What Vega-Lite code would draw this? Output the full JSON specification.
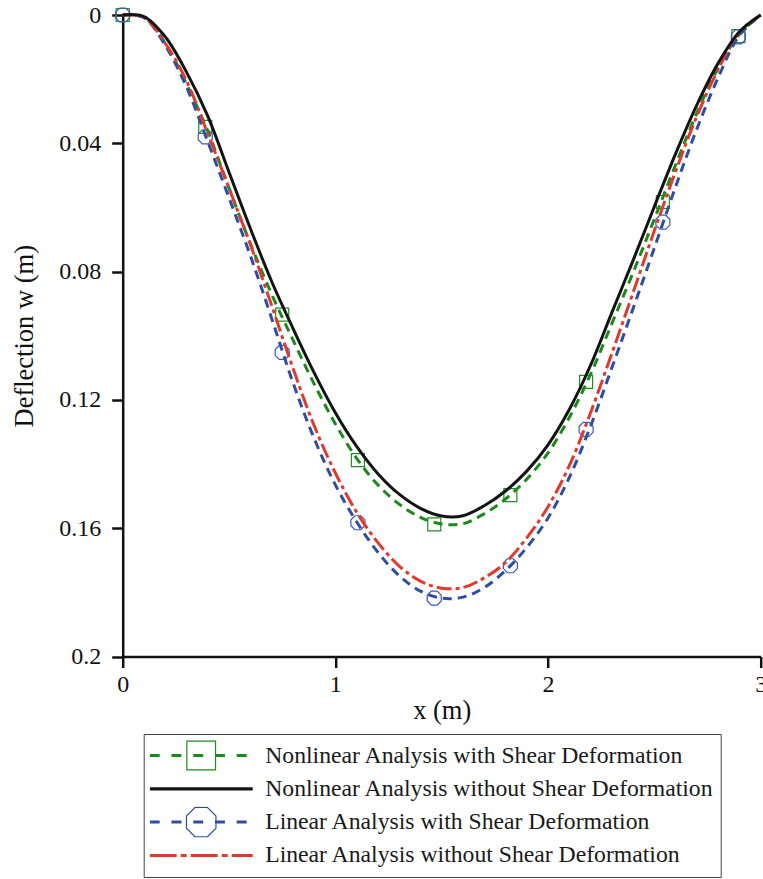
{
  "$schema": "https://vega.github.io/schema/vega-lite/v6.json",
  "autosize": {"type": "none"},
  "padding": {"left": 122.7, "top": 15, "right": 2.3, "bottom": 222.5},
  "width": 638,
  "height": 641.5,
  "background": "white",
  "datasets": {
    "curves": [
      {"x": 0.0, "Nonlinear Analysis with Shear Deformation": 0, "Nonlinear Analysis without Shear Deformation": 0, "Linear Analysis with Shear Deformation": 0, "Linear Analysis without Shear Deformation": 0},
      {"x": 0.1, "Nonlinear Analysis with Shear Deformation": 0.0008, "Nonlinear Analysis without Shear Deformation": 0.0005, "Linear Analysis with Shear Deformation": 0.0008, "Linear Analysis without Shear Deformation": 0.0008},
      {"x": 0.2, "Nonlinear Analysis with Shear Deformation": 0.0088, "Nonlinear Analysis without Shear Deformation": 0.0068, "Linear Analysis with Shear Deformation": 0.0095, "Linear Analysis without Shear Deformation": 0.0088},
      {"x": 0.3, "Nonlinear Analysis with Shear Deformation": 0.0215, "Nonlinear Analysis without Shear Deformation": 0.0178, "Linear Analysis with Shear Deformation": 0.0225, "Linear Analysis without Shear Deformation": 0.0205},
      {"x": 0.4, "Nonlinear Analysis with Shear Deformation": 0.0362, "Nonlinear Analysis without Shear Deformation": 0.0315, "Linear Analysis with Shear Deformation": 0.0395, "Linear Analysis without Shear Deformation": 0.037},
      {"x": 0.5, "Nonlinear Analysis with Shear Deformation": 0.054, "Nonlinear Analysis without Shear Deformation": 0.049, "Linear Analysis with Shear Deformation": 0.057, "Linear Analysis without Shear Deformation": 0.054},
      {"x": 0.6, "Nonlinear Analysis with Shear Deformation": 0.0712, "Nonlinear Analysis without Shear Deformation": 0.0665, "Linear Analysis with Shear Deformation": 0.075, "Linear Analysis without Shear Deformation": 0.0715},
      {"x": 0.7, "Nonlinear Analysis with Shear Deformation": 0.087, "Nonlinear Analysis without Shear Deformation": 0.083, "Linear Analysis with Shear Deformation": 0.0945, "Linear Analysis without Shear Deformation": 0.0905},
      {"x": 0.8, "Nonlinear Analysis with Shear Deformation": 0.1012, "Nonlinear Analysis without Shear Deformation": 0.0976, "Linear Analysis with Shear Deformation": 0.1145, "Linear Analysis without Shear Deformation": 0.11},
      {"x": 0.9, "Nonlinear Analysis with Shear Deformation": 0.115, "Nonlinear Analysis without Shear Deformation": 0.1115, "Linear Analysis with Shear Deformation": 0.132, "Linear Analysis without Shear Deformation": 0.128},
      {"x": 1.0, "Nonlinear Analysis with Shear Deformation": 0.1275, "Nonlinear Analysis without Shear Deformation": 0.124, "Linear Analysis with Shear Deformation": 0.1465, "Linear Analysis without Shear Deformation": 0.1428},
      {"x": 1.1, "Nonlinear Analysis with Shear Deformation": 0.1382, "Nonlinear Analysis without Shear Deformation": 0.1345, "Linear Analysis with Shear Deformation": 0.158, "Linear Analysis without Shear Deformation": 0.155},
      {"x": 1.2, "Nonlinear Analysis with Shear Deformation": 0.1465, "Nonlinear Analysis without Shear Deformation": 0.143, "Linear Analysis with Shear Deformation": 0.1675, "Linear Analysis without Shear Deformation": 0.1645},
      {"x": 1.3, "Nonlinear Analysis with Shear Deformation": 0.1525, "Nonlinear Analysis without Shear Deformation": 0.1494, "Linear Analysis with Shear Deformation": 0.1748, "Linear Analysis without Shear Deformation": 0.1718},
      {"x": 1.4, "Nonlinear Analysis with Shear Deformation": 0.1566, "Nonlinear Analysis without Shear Deformation": 0.1538, "Linear Analysis with Shear Deformation": 0.1796, "Linear Analysis without Shear Deformation": 0.1765},
      {"x": 1.5, "Nonlinear Analysis with Shear Deformation": 0.1587, "Nonlinear Analysis without Shear Deformation": 0.1562, "Linear Analysis with Shear Deformation": 0.1818, "Linear Analysis without Shear Deformation": 0.1787},
      {"x": 1.6, "Nonlinear Analysis with Shear Deformation": 0.1586, "Nonlinear Analysis without Shear Deformation": 0.1561, "Linear Analysis with Shear Deformation": 0.1815, "Linear Analysis without Shear Deformation": 0.1785},
      {"x": 1.7, "Nonlinear Analysis with Shear Deformation": 0.1555, "Nonlinear Analysis without Shear Deformation": 0.153, "Linear Analysis with Shear Deformation": 0.1785, "Linear Analysis without Shear Deformation": 0.1755},
      {"x": 1.8, "Nonlinear Analysis with Shear Deformation": 0.1509, "Nonlinear Analysis without Shear Deformation": 0.1484, "Linear Analysis with Shear Deformation": 0.1732, "Linear Analysis without Shear Deformation": 0.1707},
      {"x": 1.9, "Nonlinear Analysis with Shear Deformation": 0.1447, "Nonlinear Analysis without Shear Deformation": 0.1422, "Linear Analysis with Shear Deformation": 0.166, "Linear Analysis without Shear Deformation": 0.163},
      {"x": 2.0, "Nonlinear Analysis with Shear Deformation": 0.1365, "Nonlinear Analysis without Shear Deformation": 0.134, "Linear Analysis with Shear Deformation": 0.1568, "Linear Analysis without Shear Deformation": 0.1533},
      {"x": 2.1, "Nonlinear Analysis with Shear Deformation": 0.1255, "Nonlinear Analysis without Shear Deformation": 0.123, "Linear Analysis with Shear Deformation": 0.1442, "Linear Analysis without Shear Deformation": 0.1405},
      {"x": 2.2, "Nonlinear Analysis with Shear Deformation": 0.112, "Nonlinear Analysis without Shear Deformation": 0.1092, "Linear Analysis with Shear Deformation": 0.1282, "Linear Analysis without Shear Deformation": 0.124},
      {"x": 2.3, "Nonlinear Analysis with Shear Deformation": 0.0962, "Nonlinear Analysis without Shear Deformation": 0.0928, "Linear Analysis with Shear Deformation": 0.11, "Linear Analysis without Shear Deformation": 0.1055},
      {"x": 2.4, "Nonlinear Analysis with Shear Deformation": 0.0803, "Nonlinear Analysis without Shear Deformation": 0.0765, "Linear Analysis with Shear Deformation": 0.0915, "Linear Analysis without Shear Deformation": 0.0865},
      {"x": 2.5, "Nonlinear Analysis with Shear Deformation": 0.0636, "Nonlinear Analysis without Shear Deformation": 0.0597, "Linear Analysis with Shear Deformation": 0.0726, "Linear Analysis without Shear Deformation": 0.0672},
      {"x": 2.6, "Nonlinear Analysis with Shear Deformation": 0.0467, "Nonlinear Analysis without Shear Deformation": 0.0432, "Linear Analysis with Shear Deformation": 0.0535, "Linear Analysis without Shear Deformation": 0.0487},
      {"x": 2.7, "Nonlinear Analysis with Shear Deformation": 0.0305, "Nonlinear Analysis without Shear Deformation": 0.028, "Linear Analysis with Shear Deformation": 0.0355, "Linear Analysis without Shear Deformation": 0.0315},
      {"x": 2.8, "Nonlinear Analysis with Shear Deformation": 0.0165, "Nonlinear Analysis without Shear Deformation": 0.015, "Linear Analysis with Shear Deformation": 0.0195, "Linear Analysis without Shear Deformation": 0.017},
      {"x": 2.9, "Nonlinear Analysis with Shear Deformation": 0.006, "Nonlinear Analysis without Shear Deformation": 0.0052, "Linear Analysis with Shear Deformation": 0.0063, "Linear Analysis without Shear Deformation": 0.0053},
      {"x": 3.0, "Nonlinear Analysis with Shear Deformation": 0, "Nonlinear Analysis without Shear Deformation": 0, "Linear Analysis with Shear Deformation": 0, "Linear Analysis without Shear Deformation": 0}
    ],
    "markers": [
      {"x": 0, "square": 0, "octagon": 0},
      {"x": 0.388, "square": 0.0349, "octagon": 0.038},
      {"x": 0.75, "square": 0.0934, "octagon": 0.1052},
      {"x": 1.106, "square": 0.1388, "octagon": 0.1583},
      {"x": 1.465, "square": 0.1588, "octagon": 0.1818},
      {"x": 1.823, "square": 0.1497, "octagon": 0.1717},
      {"x": 2.179, "square": 0.1144, "octagon": 0.1292},
      {"x": 2.54, "square": 0.0583, "octagon": 0.0646},
      {"x": 2.895, "square": 0.0066, "octagon": 0.0068}
    ]
  },
  "encoding": {
    "x": {
      "field": "x", "type": "quantitative",
      "scale": {"domain": [0, 3], "nice": false, "zero": false},
      "axis": {"values": [0, 1, 2, 3], "format": "d", "title": "x (m)", "labelPadding": 5, "titlePadding": 0.5, "labelFlush": false, "labelOverlap": false}
    }
  },
  "layer": [
    {
      "data": {"name": "markers"},
      "mark": {"type": "point", "shape": "square", "size": 169, "filled": false, "stroke": "#1f8f1f", "strokeWidth": 1.2, "opacity": 1},
      "encoding": {
        "y": {"field": "square", "type": "quantitative"}
      }
    },
    {
      "data": {"name": "markers"},
      "mark": {"type": "point", "shape": "M-0.414,-1L0.414,-1L1,-0.414L1,0.414L0.414,1L-0.414,1L-1,0.414L-1,-0.414Z", "size": 196, "filled": false, "stroke": "#3a58bd", "strokeWidth": 1.2, "opacity": 1},
      "encoding": {
        "y": {"field": "octagon", "type": "quantitative"}
      }
    },
    {
      "data": {"name": "curves"},
      "transform": [
        {"fold": ["Nonlinear Analysis with Shear Deformation", "Nonlinear Analysis without Shear Deformation", "Linear Analysis with Shear Deformation", "Linear Analysis without Shear Deformation"], "as": ["series", "w"]}
      ],
      "encoding": {
        "y": {
          "field": "w", "type": "quantitative",
          "scale": {"domain": [0, 0.2], "reverse": true, "nice": false},
          "axis": {"values": [0, 0.04, 0.08, 0.12, 0.16, 0.2], "format": "~g", "title": "Deflection w (m)", "labelPadding": 11, "titlePadding": 20.5, "labelFlush": false, "labelOverlap": false}
        },
        "color": {
          "field": "series", "type": "nominal",
          "scale": {
            "domain": ["Nonlinear Analysis with Shear Deformation", "Nonlinear Analysis without Shear Deformation", "Linear Analysis with Shear Deformation", "Linear Analysis without Shear Deformation"],
            "range": ["#1b8a1b", "#141414", "#2e4ea6", "#e2392d"]
          },
          "legend": {
            "orient": "none",
            "legendX": 21,
            "legendY": 719,
            "title": null,
            "direction": "vertical",
            "symbolSize": 10609,
            "symbolStrokeWidth": 0,
            "clipHeight": 31,
            "labelFont": "Liberation Serif",
            "labelFontSize": 23.7,
            "labelColor": "#1a1a1a",
            "labelOffset": 12.5,
            "labelLimit": 0,
            "rowPadding": 2.3,
            "padding": 6,
            "strokeColor": "#444444",
            "fillColor": "white",
            "encode": {
              "symbols": {
                "update": {
                  "shape": {"signal": "datum.index === 0 ? 'M-1,-0.029L-0.806,-0.029L-0.806,0.029L-1,0.029Z M-0.578,-0.029L-0.383,-0.029L-0.383,0.029L-0.578,0.029Z M-0.155,-0.029L0.039,-0.029L0.039,0.029L-0.155,0.029Z M0.267,-0.029L0.461,-0.029L0.461,0.029L0.267,0.029Z M0.689,-0.029L0.883,-0.029L0.883,0.029L0.689,0.029Z M-0.29,-0.29L0.29,-0.29L0.29,0.29L-0.29,0.29Z M-0.267,-0.267L-0.267,0.267L0.267,0.267L0.267,-0.267Z' : datum.index === 1 ? 'M-1,-0.032L1,-0.032L1,0.032L-1,0.032Z' : datum.index === 2 ? 'M-1,-0.029L-0.806,-0.029L-0.806,0.029L-1,0.029Z M-0.578,-0.029L-0.383,-0.029L-0.383,0.029L-0.578,0.029Z M-0.155,-0.029L0.039,-0.029L0.039,0.029L-0.155,0.029Z M0.267,-0.029L0.461,-0.029L0.461,0.029L0.267,0.029Z M0.689,-0.029L0.883,-0.029L0.883,0.029L0.689,0.029Z M-0.1234,-0.298L0.1234,-0.298L0.298,-0.1234L0.298,0.1234L0.1234,0.298L-0.1234,0.298L-0.298,0.1234L-0.298,-0.1234Z M-0.1139,-0.275L-0.275,-0.1139L-0.275,0.1139L-0.1139,0.275L0.1139,0.275L0.275,0.1139L0.275,-0.1139L0.1139,-0.275Z' : 'M-1,-0.029L-0.476,-0.029L-0.476,0.029L-1,0.029Z M-0.398,-0.029L-0.282,-0.029L-0.282,0.029L-0.398,0.029Z M-0.204,-0.029L0.32,-0.029L0.32,0.029L-0.204,0.029Z M0.398,-0.029L0.515,-0.029L0.515,0.029L0.398,0.029Z M0.592,-0.029L1,-0.029L1,0.029L0.592,0.029Z'"},
                  "fill": {"signal": "scale('color', datum.value)"},
                  "strokeWidth": {"value": 0}
                }
              }
            }
          }
        }
      },
      "layer": [
        {
          "transform": [{"filter": "datum.series === 'Nonlinear Analysis with Shear Deformation'"}],
          "mark": {"type": "line", "interpolate": "catmull-rom", "strokeWidth": 3, "strokeDash": [9, 6]}
        },
        {
          "transform": [{"filter": "datum.series === 'Linear Analysis with Shear Deformation'"}],
          "mark": {"type": "line", "interpolate": "catmull-rom", "strokeWidth": 3, "strokeDash": [9, 6]}
        },
        {
          "transform": [{"filter": "datum.series === 'Linear Analysis without Shear Deformation'"}],
          "mark": {"type": "line", "interpolate": "catmull-rom", "strokeWidth": 3, "strokeDash": [15, 4, 4, 4]}
        },
        {
          "transform": [{"filter": "datum.series === 'Nonlinear Analysis without Shear Deformation'"}],
          "mark": {"type": "line", "interpolate": "catmull-rom", "strokeWidth": 3}
        }
      ]
    }
  ],
  "config": {
    "view": {"stroke": null},
    "axis": {
      "grid": false,
      "domainColor": "#111111",
      "tickColor": "#111111",
      "domainWidth": 2.5,
      "tickWidth": 2.5,
      "tickSize": 11,
      "labelFont": "Liberation Serif",
      "labelFontSize": 24,
      "labelColor": "#111111",
      "titleFont": "Liberation Serif",
      "titleFontSize": 26.5,
      "titleFontWeight": "normal",
      "titleColor": "#111111"
    }
  }
}
